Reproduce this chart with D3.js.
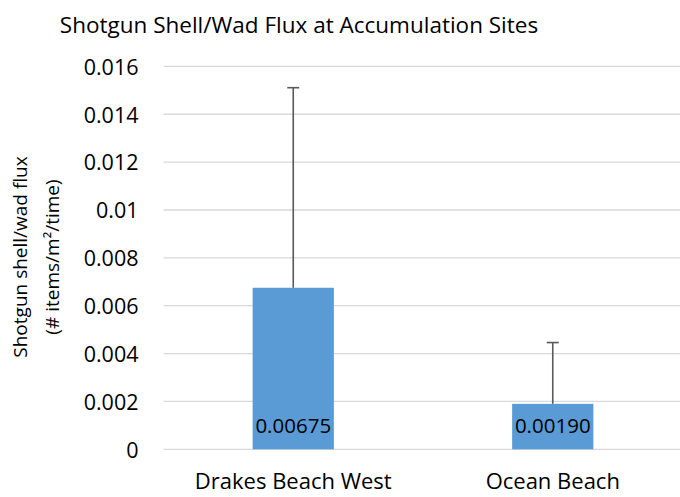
<!DOCTYPE html>
<html>
<head>
<meta charset="utf-8">
<script src="https://cdn.jsdelivr.net/npm/d3@7"></script>
<style>
  body { margin: 0; background: #fff; }
  svg { display: block; font-family: "Open Sans", "Noto Sans", sans-serif; }
</style>
</head>
<body>
<div id="result"></div>
<script>
const sites = ["Drakes Beach West", "Ocean Beach"];
const flux = [0.00675, 0.00190];
const fluxLabels = ["0.00675", "0.00190"];
const errPlus = [0.00836, 0.00256];
const yTicks = [0, 0.002, 0.004, 0.006, 0.008, 0.01, 0.012, 0.014, 0.016];

const width = 680, height = 497;
const plot = { left: 163.5, right: 682.5, top: 66.4, bottom: 449.3 };

const svg = d3.select("#result")
    .append("svg")
    .attr("width", width)
    .attr("height", height);

const x = d3.scaleBand()
    .domain(sites)
    .range([plot.left, plot.right])
    .paddingInner(0.687)
    .paddingOuter(0.3435);

const y = d3.scaleLinear()
    .domain([0, 0.016])
    .range([plot.bottom, plot.top]);

// gridlines
svg.append("g")
    .selectAll("line")
    .data(yTicks)
    .join("line")
    .attr("x1", plot.left)
    .attr("x2", plot.right)
    .attr("y1", d => y(d))
    .attr("y2", d => y(d))
    .attr("stroke", "#d9d9d9")
    .attr("stroke-width", 1.3);

// y axis labels
const yAxis = svg.append("g")
    .attr("transform", "translate(" + (plot.left - 25) + ",0)")
    .call(d3.axisLeft(y).tickValues(yTicks).tickSize(0).tickFormat(d => d === 0 ? "0" : String(+d.toFixed(3))));
yAxis.select(".domain").remove();
yAxis.selectAll("text")
    .attr("fill", "#000")
    .attr("font-size", 21.5)
    .attr("font-family", "\"Open Sans\", sans-serif")
    .attr("x", 0)
    .attr("dy", "0.36em");

// x axis labels
const xAxis = svg.append("g")
    .attr("transform", "translate(0," + plot.bottom + ")")
    .call(d3.axisBottom(x).tickSize(0));
xAxis.select(".domain").remove();
xAxis.selectAll("text")
    .attr("fill", "#000")
    .attr("font-size", 22)
    .attr("font-family", "\"Open Sans\", sans-serif")
    .attr("y", 0)
    .attr("dy", 40);

// bars
svg.append("g")
    .selectAll("rect")
    .data(sites)
    .join("rect")
    .attr("x", d => x(d))
    .attr("width", x.bandwidth())
    .attr("y", (d, i) => y(flux[i]))
    .attr("height", (d, i) => y(0) - y(flux[i]))
    .attr("fill", "#5b9bd5");

// error bars (plus only)
const eb = svg.append("g")
    .attr("stroke", "#595959")
    .attr("stroke-width", 1.6);
sites.forEach((s, i) => {
    const cx = x(s) + x.bandwidth() / 2;
    eb.append("line")
        .attr("x1", cx).attr("x2", cx)
        .attr("y1", y(flux[i]))
        .attr("y2", y(flux[i] + errPlus[i]));
    eb.append("line")
        .attr("x1", cx - 6).attr("x2", cx + 6)
        .attr("y1", y(flux[i] + errPlus[i]))
        .attr("y2", y(flux[i] + errPlus[i]));
});

// data labels
svg.append("g")
    .selectAll("text")
    .data(sites)
    .join("text")
    .attr("x", d => x(d) + x.bandwidth() / 2)
    .attr("y", plot.bottom - 16)
    .attr("text-anchor", "middle")
    .attr("font-size", 20.5)
    .attr("fill", "#000")
    .text((d, i) => fluxLabels[i]);

// title
svg.append("text")
    .attr("x", 299)
    .attr("y", 33)
    .attr("text-anchor", "middle")
    .attr("font-size", 22.5)
    .attr("fill", "#000")
    .text("Shotgun Shell/Wad Flux at Accumulation Sites");

// y axis title
const yt = svg.append("text")
    .attr("transform", "translate(27,257) rotate(-90)")
    .attr("text-anchor", "middle")
    .attr("font-size", 19)
    .attr("fill", "#000");
yt.append("tspan").attr("x", 0).attr("dy", 0).text("Shotgun shell/wad flux");
yt.append("tspan").attr("x", 0).attr("dy", 32).text("(# items/m²/time)");
</script>
</body>
</html>
